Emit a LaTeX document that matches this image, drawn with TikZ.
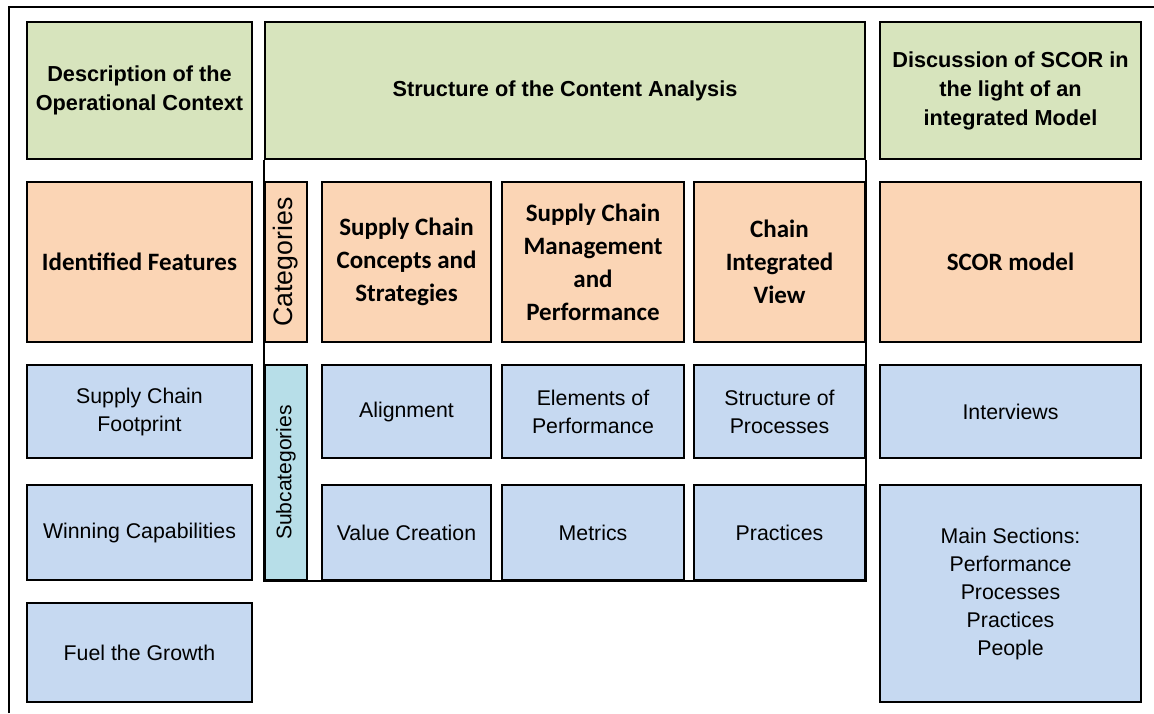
\documentclass[tikz,border=0pt]{standalone}
\usepackage{fontspec}
\setmainfont{Liberation Sans}
\newfontfamily\calib{Carlito}
\usepackage{tikz}
\usetikzlibrary{positioning}

\definecolor{headgreen}{HTML}{D7E4BD}
\definecolor{catorange}{HTML}{FBD5B5}
\definecolor{subblue}{HTML}{C6D9F1}
\definecolor{subteal}{HTML}{B7DEE8}

\begin{document}
\begin{tikzpicture}[x=1pt, y=-1pt, line width=2pt,
 box/.style={draw, inner sep=0pt, align=center},
 head/.style={box, fill=headgreen, font=\fontsize{21.7}{29}\selectfont\bfseries},
 cat/.style={box, fill=catorange, font=\calib\fontsize{25}{33}\selectfont\bfseries},
 sub/.style={box, fill=subblue, font=\fontsize{21.3}{28}\selectfont}]
\useasboundingbox (0,0) rectangle (1154,713);
% outer frame of the table
\coordinate (fl) at (9,713);
\coordinate (tl) at (9,7);
\coordinate (tr) at (1154,7);
\draw (fl) -- (tl) -- (tr);
% top row
\node[head, minimum width=225, minimum height=137] (ctx) at (139.5,90.5) {Description of the\\Operational Context};
\node[head, minimum width=600, minimum height=137] (sca) at (565,90.5) {Structure of the Content Analysis};
\node[head, minimum width=261, minimum height=137] (dis) at (1010.5,90.5) {Discussion of SCOR in\\the light of an\\integrated Model};
% categories
\node[cat, minimum width=225, minimum height=160] (feat) at (139.5,262) {Identified Features};
\node[cat, minimum width=160, minimum height=42, rotate=90, font=\fontsize{26.7}{30}\selectfont] (cat) at (286,262) {Categories};
\node[cat, minimum width=169, minimum height=160] (scs) at (406.5,262) {Supply Chain\\Concepts and\\Strategies};
\node[cat, minimum width=182, minimum height=160] (scm) at (593,262) {Supply Chain\\Management\\and\\Performance};
\node[cat, minimum width=171, minimum height=160] (civ) at (779.5,262) {Chain\\Integrated\\View};
\node[cat, minimum width=261, minimum height=160] (scor) at (1010.5,262) {SCOR model};
% subcategories, first row
\node[sub, minimum width=225, minimum height=93] (foot) at (139.5,411.5) {Supply Chain\\Footprint};
\node[sub, fill=subteal, minimum width=215, minimum height=42, rotate=90, font=\fontsize{21.1}{25}\selectfont] (subc) at (286,472.5) {Subcategories};
\node[sub, minimum width=169, minimum height=93] (align) at (406.5,411.5) {Alignment};
\node[sub, minimum width=182, minimum height=93] (elem) at (593,411.5) {Elements of\\Performance};
\node[sub, minimum width=171, minimum height=93] (proc) at (779.5,411.5) {Structure of\\Processes};
\node[sub, minimum width=261, minimum height=93] (inter) at (1010.5,411.5) {Interviews};
% subcategories, second row
\node[sub, minimum width=225, minimum height=95] (win) at (139.5,532.5) {Winning Capabilities};
\node[sub, minimum width=169, minimum height=95] (value) at (406.5,532.5) {Value Creation};
\node[sub, minimum width=182, minimum height=95] (metr) at (593,532.5) {Metrics};
\node[sub, minimum width=171, minimum height=95] (prac) at (779.5,532.5) {Practices};
\node[sub, minimum width=261, minimum height=217] (main) at (1010.5,593.5) {Main Sections:\\Performance\\Processes\\Practices\\People};
\node[sub, minimum width=225, minimum height=99] (fuel) at (139.5,652.5) {Fuel the Growth};
% frame round the content analysis
\draw (sca.south west) -- (subc.north west) -- (prac.south east) -- (sca.south east);
\end{tikzpicture}
\end{document}
